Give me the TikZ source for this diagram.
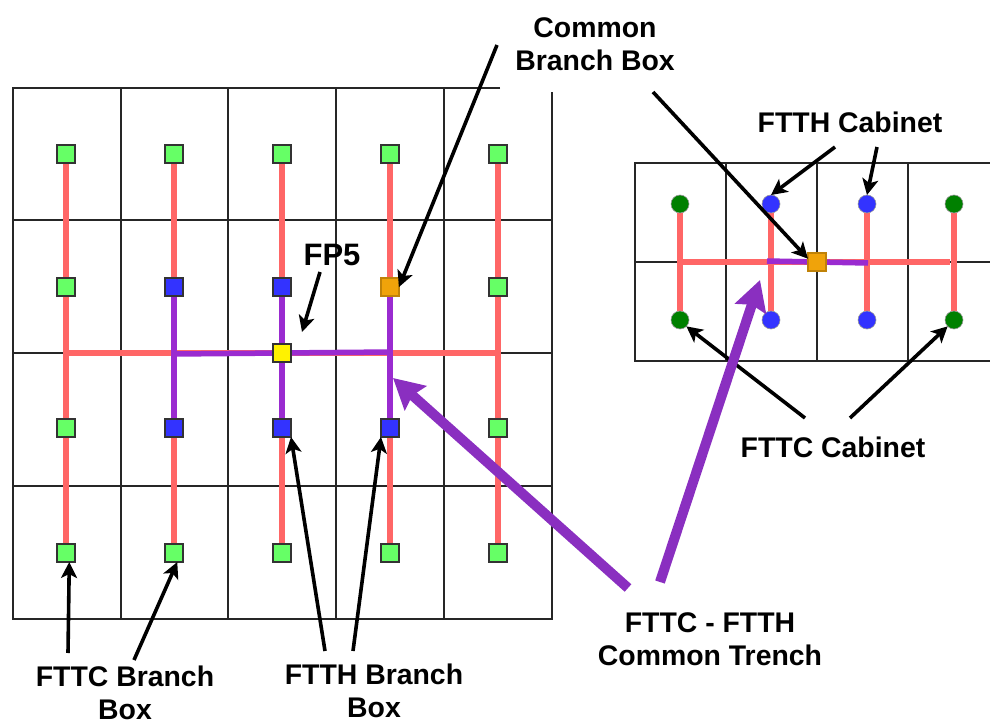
\documentclass[tikz,border=0pt]{standalone}
\usepackage{fontspec}
\setmainfont{Liberation Sans}
\usetikzlibrary{
arrows.meta,
backgrounds
}
\definecolor{trenchred}{HTML}{FF6666}
\definecolor{trenchpurple}{HTML}{9A2BD0}
\definecolor{calloutpurple}{HTML}{8A2FC0}
\definecolor{boxgreen}{HTML}{66FF66}
\definecolor{boxblue}{HTML}{3333FF}
\definecolor{boxorange}{HTML}{F0A30A}
\definecolor{cabgreen}{HTML}{008000}
\tikzset{
  every node/.style = {
    inner sep = 0pt,
    outer sep = 0pt
  }
}

\begin{document}
\begin{tikzpicture}[
      x=1pt,
      y=-1pt,
      gridline/.style={
        line width = 1.4pt,
        draw = black!85,
      },
      redtrench/.style={
        line width = 5.5pt,
        draw = trenchred,
      },
      purpletrench/.style={
        line width = 5.5pt,
        draw = trenchpurple,
      },
      branchbox/.style={
        rectangle,
        minimum size = 18pt,
        draw = black!80,
        line width = 1.3pt,
      },
      cabinet/.style={
        circle,
        minimum size = 18pt,
        draw = black!40,
        line width = 0.6pt,
      },
      label/.style={
        align = center,
        font = \fontsize{28.4}{33.5}\selectfont\bfseries,
      },
      pointer/.style={
        line width = 3.6pt,
        -{Stealth[length=16pt,width=16pt,inset=4pt]},
      },
      bigpointer/.style={
        line width = 10pt,
        draw = calloutpurple,
        -{Stealth[length=30pt,width=32pt,inset=4pt]},
      },
      ]
      \useasboundingbox (0,0) rectangle (990,722);
      % left area boxes
      \foreach \col/\x in {1/66,2/174,3/282,4/390,5/498} {
        \foreach \row/\y in {1/154,2/287,3/428,4/553} {
          \node [branchbox, fill=boxgreen, name=box-\col-\row] at (\x,\y) {};
        }
      }
      \foreach \name in {box-2-2,box-3-2,box-2-3,box-3-3,box-4-3} {
        \node [branchbox, fill=boxblue] at (\name) {};
      }
      \node [branchbox, fill=boxorange, draw=boxorange!80!black, name=node-common] at (box-4-2) {};
      \node [branchbox, fill=yellow, name=node-fp] at (282,353) {};
      % right area cabinets
      \foreach \col/\x/\colr in {1/680/cabgreen,2/771/boxblue,3/867/boxblue,4/954/cabgreen} {
        \node [cabinet, fill=\colr, name=cab-\col-1] at (\x,204) {};
        \node [cabinet, fill=\colr, name=cab-\col-2] at (\x,320) {};
      }
      \node [branchbox, fill=boxorange, draw=boxorange!80!black, name=node-shared] at (817,262) {};
      % labels
      \node [label, name=lbl-common] at (595,44) {Common\\Branch Box};
      \node [label, font=\fontsize{31}{33.5}\selectfont\bfseries, name=lbl-fp] at (332,255) {FP5};
      \node [label, name=lbl-cabinet] at (850,122) {FTTH Cabinet};
      \node [label, name=lbl-fttc] at (833,447) {FTTC Cabinet};
      \node [label, name=lbl-trench] at (710,639) {FTTC - FTTH\\Common Trench};
      \node [label, name=lbl-cbranch] at (125,693) {FTTC Branch\\Box};
      \node [label, name=lbl-hbranch] at (374,691) {FTTH Branch\\Box};
      \begin{scope}[on background layer]
        % street grids
        \draw [gridline] (500,88) -- (13,88) -- (13,619) -- (552,619) -- (552,92);
        \foreach \x in {121,228,336,444} {
          \draw [gridline] (\x,88) -- (\x,619);
        }
        \foreach \y in {220,353,486} {
          \draw [gridline] (13,\y) -- (552,\y);
        }
        \draw [gridline] (990,163) -- (635,163) -- (635,361) -- (990,361);
        \draw [gridline] (635,262) -- (990,262);
        \foreach \x in {726,817,908} {
          \draw [gridline] (\x,163) -- (\x,361);
        }
        % trenches
        \foreach \col in {1,2,3,4,5} {
          \draw [redtrench] (box-\col-1) -- (box-\col-4);
        }
        \draw [redtrench] (66,353) -- (498,353);
        \foreach \col in {2,3,4} {
          \draw [purpletrench] (box-\col-2) -- (box-\col-3);
        }
        \draw [purpletrench] (174,354) -- (node-fp) -- (391,352);
        \foreach \col in {1,2,3,4} {
          \draw [redtrench] (cab-\col-1) -- (cab-\col-2);
        }
        \draw [redtrench] (680,262) -- (950,262);
        \draw [purpletrench] (767,261) -- (node-shared) -- (868,263);
      \end{scope}
      % tail ends beside the labels
      \coordinate (tail-common-a) at (497,45);
      \coordinate (tail-common-b) at (653,92);
      \coordinate (tail-fp) at (320,272);
      \coordinate (tail-cab-a) at (835,147);
      \coordinate (tail-cab-b) at (877,147);
      \coordinate (tail-fttc-a) at (805,418);
      \coordinate (tail-fttc-b) at (850,418);
      \coordinate (tail-trench-a) at (628,588);
      \coordinate (tail-trench-b) at (660,582);
      \coordinate (tail-cbranch-a) at (68,653);
      \coordinate (tail-cbranch-b) at (134,660);
      \coordinate (tail-hbranch-a) at (325,651);
      \coordinate (tail-hbranch-b) at (353,651);
      \coordinate (tip-fp) at (302,332);
      \coordinate (tip-trench-a) at (393,378);
      \coordinate (tip-trench-b) at (760,280);
      % callouts
      \draw [pointer] (tail-common-a) -- (node-common.east);
      \draw [pointer] (tail-common-b) -- (node-shared.160);
      \draw [pointer] (tail-fp) -- (tip-fp);
      \draw [pointer] (tail-cab-a) -- (cab-2-1.north);
      \draw [pointer] (tail-cab-b) -- (cab-3-1.north);
      \draw [pointer] (tail-fttc-a) -- (cab-1-2.south east);
      \draw [pointer] (tail-fttc-b) -- (cab-4-2.south west);
      \draw [pointer] (tail-cbranch-a) -- (box-1-4.-70);
      \draw [pointer] (tail-cbranch-b) -- (box-2-4.-70);
      \draw [pointer] (tail-hbranch-a) -- (box-3-3.south east);
      \draw [pointer] (tail-hbranch-b) -- (box-4-3.south west);
      \draw [bigpointer] (tail-trench-a) -- (tip-trench-a);
      \draw [bigpointer] (tail-trench-b) -- (tip-trench-b);
    \end{tikzpicture}
\end{document}
